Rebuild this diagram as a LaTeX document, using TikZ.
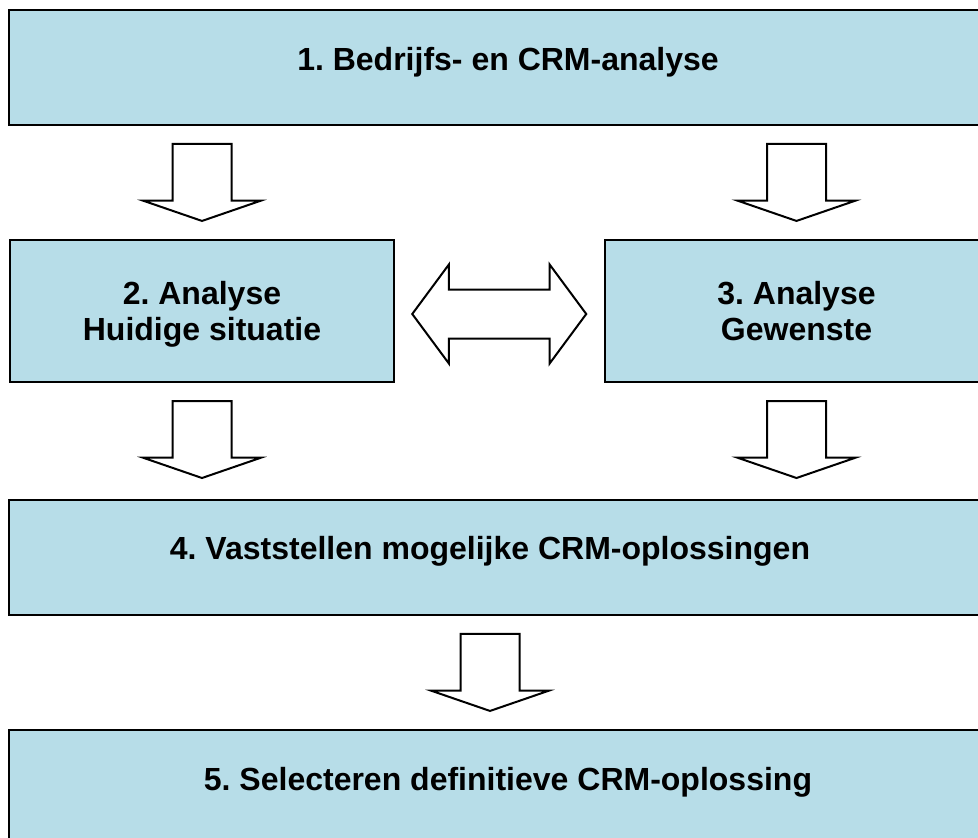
\documentclass[tikz,border=0pt]{standalone}
\usepackage{fontspec}
\setmainfont{Liberation Sans}
\usetikzlibrary{shapes.arrows, positioning}
\definecolor{lightblue}{HTML}{B7DDE8}
\frenchspacing

\begin{document}
\begin{tikzpicture}[x=1pt,y=-1pt,
  box/.style={draw,line width=2pt,fill=lightblue,minimum height=115pt,text height=23pt,text depth=18pt,font=\fontsize{32}{36}\selectfont\bfseries},
  twoline/.style={minimum width=384pt,minimum height=142pt,align=center,text height=58pt,text depth=0pt},
  downarrow/.style={draw,line width=2pt,fill=white,single arrow,shape border rotate=270,single arrow head extend=29.5pt,single arrow tip angle=142,minimum width=116pt,minimum height=77pt,inner sep=28.5pt},
  lrarrow/.style={draw,line width=2pt,fill=white,double arrow,double arrow head extend=25pt,double arrow tip angle=107,minimum width=97pt,minimum height=174pt,inner sep=23.5pt}]
\path[use as bounding box,clip] (0,0) rectangle (978,838);
\node[box,minimum width=998pt] (b1) at (508,67.5) {1. Bedrijfs- en CRM-analyse};
\node[box,twoline] (b2) at (202,311) {2. Analyse\\Huidige situatie};
\node[box,twoline,minimum width=383pt] (b3) at (796.5,311) {3. Analyse\\Gewenste};
\node[box,minimum width=998pt] (b4) at (508,557) {4. Vaststellen mogelijke CRM-oplossingen\hspace*{36pt}};
\node[box,minimum width=998pt] (b5) at (508,787.5) {5. Selecteren definitieve CRM-oplossing};
\node[downarrow,above=17pt of b2] (a12) {};
\node[downarrow,above=17pt of b3] (a13) {};
\node[downarrow,below=17pt of b2] (a24) {};
\node[downarrow,below=17pt of b3] (a35) {};
\node[downarrow,above=17pt of b5,xshift=-18pt] (a45) {};
\node[lrarrow,right=16pt of b2,yshift=-3pt] (a23) {};
\end{tikzpicture}
\end{document}
